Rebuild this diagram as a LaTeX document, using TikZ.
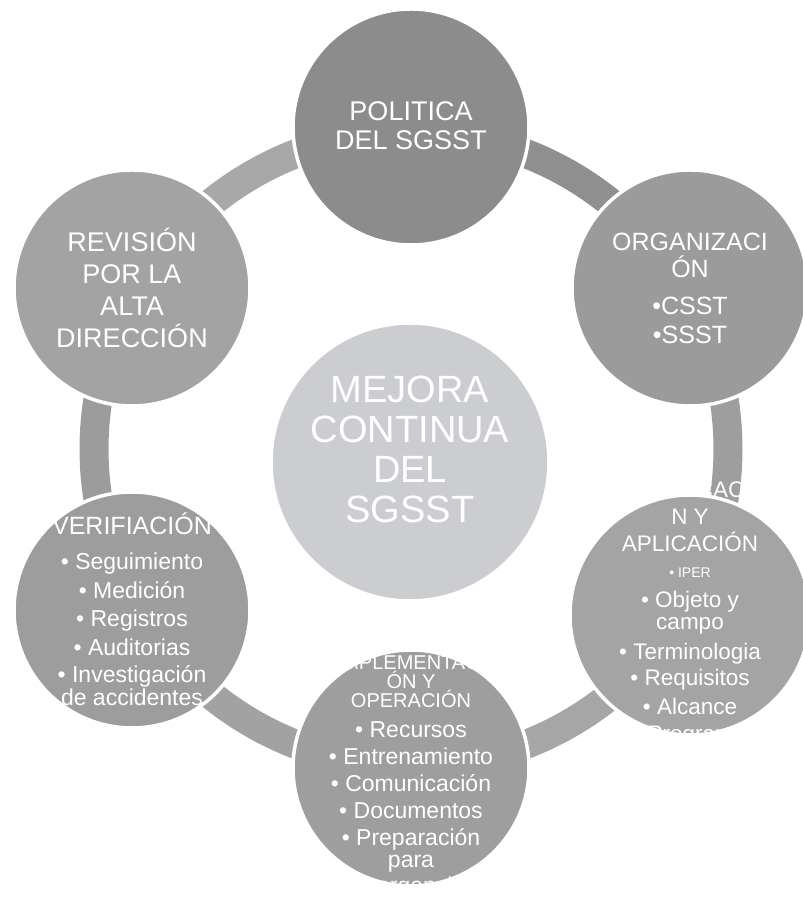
\documentclass[tikz,border=0pt]{standalone}
\usepackage{fontspec}
\setmainfont{Liberation Sans}
\newcommand\fs[2]{\fontsize{#1}{#2}\selectfont}
\definecolor{node_pol}{RGB}{140,140,140}
\definecolor{node_org}{RGB}{155,155,155}
\definecolor{node_pla}{RGB}{164,164,164}
\definecolor{node_imp}{RGB}{158,158,158}
\definecolor{node_ver}{RGB}{157,157,157}
\definecolor{node_rev}{RGB}{163,163,163}
\definecolor{node_core}{RGB}{204,205,209}
\definecolor{edge_a}{RGB}{143,143,143}
\definecolor{edge_b}{RGB}{158,158,158}
\definecolor{edge_c}{RGB}{166,166,166}
\definecolor{edge_d}{RGB}{162,162,162}
\definecolor{edge_e}{RGB}{156,156,156}
\definecolor{edge_f}{RGB}{168,168,168}

\begin{document}
\begin{tikzpicture}[x=1pt,y=1pt]
    \tikzstyle{stage}=[circle, draw=white, line width=3.5pt, minimum size=236pt, inner sep=0pt]
    \tikzstyle{core}=[style=stage, fill=node_core, minimum size=278pt]
    \tikzstyle{txt}=[text=white, align=center, inner sep=0pt]
    \tikzstyle{band}=[line width=29pt]

    \useasboundingbox (0,0) rectangle (803,897);
    \coordinate (c) at (411,448);

    % ring behind the stages
    \foreach \a/\col in {90/edge_a, 30/edge_b, -30/edge_c, -90/edge_d, 210/edge_e, 150/edge_f}
        \draw[band,\col] ([shift={(\a:317)}]c) arc[start angle=\a, end angle=\a-60, radius=317];

    \node[stage, fill=node_pol] (pol) at (411,770) {};
    \node[stage, fill=node_org] (org) at (690,609) {};
    \node[stage, fill=node_pla, minimum size=240pt] (pla) at (690,282) {};
    \node[stage, fill=node_imp] (imp) at (411,129) {};
    \node[stage, fill=node_ver] (ver) at (132,287) {};
    \node[stage, fill=node_rev] (rev) at (132,609) {};
    \node[core] (mej) at (410,435) {};

    % texts
    \node[txt, font=\fs{27}{29}] (pol-t) at ([yshift=1pt]pol) {POLITICA\\DEL SGSST};
    \node[txt, font=\fs{25}{27}] (org-t) at ([yshift=0pt]org) {ORGANIZACI\\ÓN\\[10pt]•CSST\\[2pt]•SSST};
    \node[txt, font=\fs{27}{32}] (rev-t) at (rev) {REVISIÓN\\POR LA\\ALTA\\DIRECCIÓN};
    \node[txt, font=\fs{38}{40}] (mej-t) at ([yshift=13pt]mej) {MEJORA\\CONTINUA\\DEL\\SGSST};
    \node[txt, font=\fs{23}{21}] (ver-t) at ([yshift=1pt]ver) {{\fs{25}{21}VERIFIACIÓN}\\[14pt]• Seguimiento\\[6.5pt]• Medición\\[6.5pt]• Registros\\[6.5pt]• Auditorias\\[6.5pt]• Investigación\\de accidentes};
    \node[txt, font=\fs{22.5}{20}] (pla-t) at ([yshift=3pt]pla) {PLANIFICACIÓ\\[7pt]N Y\\[7pt]APLICACIÓN\\[6pt]{\fs{14}{16}• IPER}\\[10pt]• Objeto y\\[1.5pt]campo\\[8pt]• Terminologia\\[4pt]• Requisitos\\[7pt]• Alcance\\[7pt]• Programa};
    \node[txt, font=\fs{23}{19}] (imp-t) at ([yshift=-9pt]imp) {{\fs{20}{19}IMPLEMENTACI}\\{\fs{20}{19}ÓN Y}\\{\fs{20}{19}OPERACIÓN}\\[11pt]• Recursos\\[8pt]• Entrenamiento\\[8pt]• Comunicación\\[8pt]• Documentos\\[8pt]• Preparación\\[3pt]para\\[3pt]emergencias};
\end{tikzpicture}
\end{document}
